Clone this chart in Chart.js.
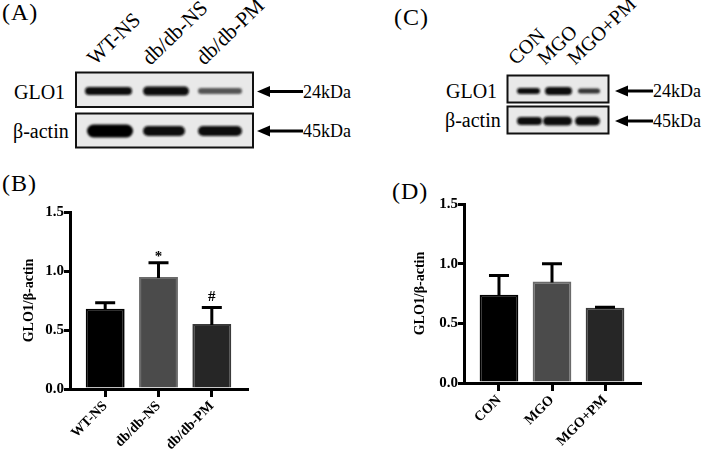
<!DOCTYPE html>
<html>
<head>
<meta charset="utf-8">
<script src="https://cdn.jsdelivr.net/npm/chart.js@4"></script>
<style>
  body { margin: 0; background: #fff; }
  #page { position: relative; width: 709px; height: 452px; overflow: hidden; font-family: 'Liberation Serif', 'Times New Roman', serif; color: #000; }
  .t { position: absolute; white-space: nowrap; }
  .panel { font-size: 24px; line-height: 24px; letter-spacing: 1px; }
  .lane { position: absolute; white-space: nowrap; transform-origin: 0 100%; transform: rotate(-44deg); }
  canvas { position: absolute; }
</style>
</head>
<body>
<div id="page">
  <div class="t panel" style="left:2px;top:0px">(A)</div>
  <div class="t panel" style="left:394px;top:5px">(C)</div>
  <div class="t panel" style="left:2px;top:171px">(B)</div>
  <div class="t panel" style="left:392px;top:179px">(D)</div>

  <svg id="blots" width="709" height="160" style="position:absolute;left:0;top:0">
    <defs>
      <filter id="soft" x="-20%" y="-60%" width="140%" height="220%"><feGaussianBlur stdDeviation="1.3"/></filter>
    </defs>
    <g id="blotBoxes"></g>
  </svg>

  <canvas id="chartB" width="260" height="292" style="left:0;top:160px"></canvas>
  <canvas id="chartD" width="349" height="292" style="left:360px;top:160px"></canvas>
</div>

<script>
// panel B: mice
const groupsB = ['WT-NS', 'db/db-NS', 'db/db-PM'];
const meanB = [0.68, 0.95, 0.55];
const semB = [0.05, 0.12, 0.14];
const markB = ['', '*', '#'];

// panel D: cells
const groupsD = ['CON', 'MGO', 'MGO+PM'];
const meanD = [0.74, 0.85, 0.63];
const semD = [0.16, 0.15, 0.005];
const markD = ['', '', ''];

const yTicks = [0, 0.5, 1.0, 1.5];
const yTitle = 'GLO1/β-actin';
const barColors = ['#000000', '#4b4b4b', '#262626'];
const barBorders = ['#000000', '#6a6a6a', '#3a3a3a'];

const serif = "'Liberation Serif', 'Times New Roman', serif";
const page = document.getElementById('page');

function addText(txt, x, cy, size, cls) {
    const d = document.createElement('div');
    d.className = cls || 't';
    d.textContent = txt;
    d.style.left = x + 'px';
    d.style.top = (cy - size / 2) + 'px';
    d.style.fontSize = size + 'px';
    d.style.lineHeight = size + 'px';
    page.appendChild(d);
    return d;
}

// western blot pictures (not data, just the look of the scans)
const svgNS = 'http://www.w3.org/2000/svg';
const boxes = document.getElementById('blotBoxes');
function el(name, attrs) {
    const e = document.createElementNS(svgNS, name);
    for (const k in attrs) e.setAttribute(k, attrs[k]);
    boxes.appendChild(e);
    return e;
}
function blotBox(x, y, w, h) {
    el('rect', { x: x, y: y, width: w, height: h, fill: '#e9e9e9', stroke: '#111', 'stroke-width': 2 });
}
function band(x1, x2, cy, h, color) {
    el('rect', { x: x1, y: cy - h / 2, width: x2 - x1, height: h, rx: h / 2, ry: h / 2, fill: color || '#111', filter: 'url(#soft)' });
}
function arrow(tip, end, y) {
    el('line', { x1: tip + 8, y1: y, x2: end, y2: y, stroke: '#000', 'stroke-width': 3 });
    el('polygon', { points: `${tip},${y} ${tip + 13},${y - 5.5} ${tip + 13},${y + 5.5}`, fill: '#000' });
}

// (A)
blotBox(76, 72.5, 177, 34.5);
blotBox(76, 113.5, 177, 34);
band(85, 132, 91, 8);
band(143, 189, 91, 9, '#0a0a0a');
band(198, 242, 91, 6, '#555');
band(87, 133, 131, 13, '#050505');
band(143, 185, 131, 10);
band(198, 242, 131, 10);
arrow(257, 303, 91.5);
arrow(257, 303, 131);
addText('GLO1', 14, 92, 20);
addText('β-actin', 13, 131, 20);
addText('24kDa', 303, 92, 18);
addText('45kDa', 303, 131, 18);
[['WT-NS', 98], ['db/db-NS', 153], ['db/db-PM', 207]].forEach(([s, x]) => {
    addText(s, x, 58, 21, 'lane');
});

// (C)
blotBox(507.5, 75.5, 101, 27);
blotBox(507.5, 106.5, 101, 27);
band(517, 540, 91, 6);
band(545, 572, 91, 8, '#0a0a0a');
band(578, 600, 91, 5, '#333');
band(517, 542, 121, 8);
band(543, 572, 121, 9);
band(575, 600, 121, 9);
arrow(615, 653, 91);
arrow(615, 653, 121);
addText('GLO1', 446, 91, 20);
addText('β-actin', 445, 120, 20);
addText('24kDa', 653, 91, 18);
addText('45kDa', 653, 121, 18);
[['CON', 518], ['MGO', 547], ['MGO+PM', 577]].forEach(([s, x]) => {
    addText(s, x, 58, 20, 'lane');
});

// error bars and significance marks, placed with the y scale
const errorBars = {
    id: 'errorBars',
    afterDatasetsDraw(chart, args, opts) {
        const ctx = chart.ctx;
        const y = chart.scales.y;
        const meta = chart.getDatasetMeta(0);
        ctx.save();
        ctx.strokeStyle = '#000';
        ctx.fillStyle = '#000';
        ctx.lineWidth = 3;
        meta.data.forEach((bar, i) => {
            const base = y.getPixelForValue(opts.means[i]);
            const top = y.getPixelForValue(opts.means[i] + opts.sems[i]);
            ctx.beginPath();
            ctx.moveTo(bar.x, base + 1);
            ctx.lineTo(bar.x, top);
            ctx.moveTo(bar.x - 10, top);
            ctx.lineTo(bar.x + 10, top);
            ctx.stroke();
            const m = opts.marks[i];
            if (m) {
                ctx.font = 'bold 15px ' + serif;
                ctx.textAlign = 'center';
                ctx.textBaseline = 'alphabetic';
                ctx.fillText(m, bar.x, top - (m === '*' ? 2 : 7));
            }
        });
        ctx.restore();
    }
};

function makeChart(id, labels, means, sems, marks, lay) {
    const ctx = document.getElementById(id).getContext('2d');
    return new Chart(ctx, {
        type: 'bar',
        data: {
            datasets: [{
                data: means.map((v, i) => ({ x: i, y: v })),
                backgroundColor: barColors,
                borderColor: barBorders,
                borderWidth: 2,
                barPercentage: 0.73,
                categoryPercentage: 1
            }]
        },
        options: {
            responsive: false,
            animation: false,
            devicePixelRatio: 1,
            layout: { padding: { top: lay.top, right: lay.right, left: 0, bottom: 0 } },
            plugins: {
                legend: { display: false },
                tooltip: { enabled: false },
                errorBars: { means: means, sems: sems, marks: marks }
            },
            scales: {
                x: {
                    type: 'linear',
                    min: -0.66,
                    max: 2.66,
                    offset: false,
                    afterBuildTicks: s => { s.ticks = labels.map((_, i) => ({ value: i })); },
                    afterFit: s => { s.height = lay.xHeight; },
                    ticks: {
                        callback: (v, i) => labels[i],
                        autoSkip: false,
                        minRotation: 45,
                        maxRotation: 45,
                        padding: 1,
                        color: '#000',
                        font: { family: serif, size: 14, weight: 'bold' }
                    },
                    grid: { display: true, offset: false, drawOnChartArea: false, tickLength: 8, lineWidth: 3, tickColor: '#000' },
                    border: { display: true, width: 3, color: '#000', z: 1 }
                },
                y: {
                    min: 0,
                    max: 1.5,
                    afterBuildTicks: s => { s.ticks = yTicks.map(v => ({ value: v })); },
                    afterFit: s => { s.width = lay.yWidth; },
                    ticks: {
                        callback: v => v.toFixed(1),
                        padding: 0,
                        color: '#000',
                        font: { family: serif, size: 15, weight: 'bold' }
                    },
                    grid: { display: true, drawOnChartArea: false, tickLength: 6, lineWidth: 3, tickColor: '#000' },
                    border: { display: true, width: 3, color: '#000', z: 1 },
                    title: {
                        display: true,
                        text: yTitle,
                        color: '#000',
                        font: { family: serif, size: 14, weight: 'bold' },
                        padding: { top: lay.titlePad, bottom: 0 }
                    }
                }
            }
        },
        plugins: [errorBars]
    });
}

makeChart('chartB', groupsB, meanB, semB, markB, { top: 52, right: 13, xHeight: 63, yWidth: 70, titlePad: 21 });
makeChart('chartD', groupsD, meanD, semD, markD, { top: 44, right: 69, xHeight: 69, yWidth: 104, titlePad: 52 });
</script>
</body>
</html>
